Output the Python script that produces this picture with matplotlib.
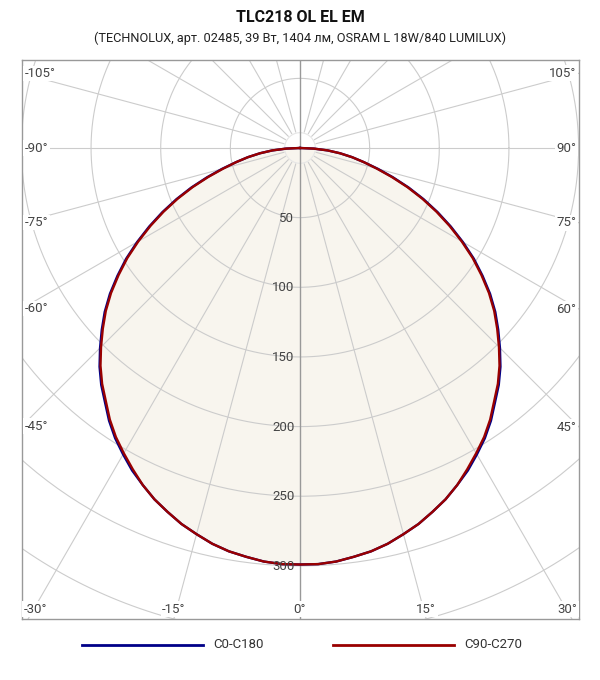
import numpy as np
import matplotlib.pyplot as plt

# luminous intensity, cd/klm, gamma 0..90 step 2.5 (symmetric halves)
gamma = [0, 2.5, 5, 7.5, 10, 12.5, 15, 17.5, 20, 22.5, 25, 27.5, 30, 32.5, 35, 37.5, 40, 42.5, 45,
         47.5, 50, 52.5, 55, 57.5, 60, 62.5, 65, 67.5, 70, 72.5, 75, 77.5, 80, 82.5, 85, 87.5, 90]
c0_c180 = [299, 299, 298, 296, 294, 291, 287, 283, 278, 273, 267, 261, 254, 247, 239, 230, 222, 213, 203,
           193, 183, 172, 160, 148, 135, 122, 109, 96, 83, 70, 58, 47, 38, 29, 20, 10, 0]
c90_c270 = [299, 299, 298, 296, 294, 291, 287, 283, 278, 273, 267, 260, 253, 246, 238, 229, 221, 212, 202,
            192, 182, 171, 159, 147, 134, 121, 108, 95, 82, 69, 57, 47, 38, 29, 20, 10, 0]

title = "TLC218 OL EL EM"
subtitle = "(TECHNOLUX, арт. 02485, 39 Вт, 1404 лм, OSRAM L 18W/840 LUMILUX)"
series_names = ["C0-C180", "C90-C270"]
series_colors = ["#000088", "#990000"]
ring_values = [50, 100, 150, 200, 250, 300]
angle_labels = [-105, -90, -75, -60, -45, -30, -15, 0, 15, 30, 45, 60, 75, 90, 105]

plt.rcParams['font.family'] = ['Roboto', 'DejaVu Sans']

W, H = 600, 680
fig = plt.figure(figsize=(W / 100, H / 100), dpi=100)

# frame in pixels
left, right, top, bottom = 22, 579, 60, 619
cx, cy = 300, 148
scale = 1.393  # px per cd/klm

ax = fig.add_axes([left / W, 1 - bottom / H, (right - left) / W, (bottom - top) / H])
xmin, xmax = (left - cx) / scale, (right - cx) / scale
ymin, ymax = -(bottom - cy) / scale, (cy - top) / scale
ax.set_xlim(xmin, xmax)
ax.set_ylim(ymin, ymax)
ax.set_xticks([])
ax.set_yticks([])
for s in ax.spines.values():
    s.set_color("#999999")
    s.set_linewidth(1.0)


def curve(values):
    g = np.radians(np.array(gamma, dtype=float))
    v = np.array(values, dtype=float)
    # right half (0..90) and mirrored left half
    gg = np.concatenate([-g[::-1], g[1:]])
    vv = np.concatenate([v[::-1], v[1:]])
    return vv * np.sin(gg), -vv * np.cos(gg)


# fill
fx, fy = curve(c90_c270)
ax.fill(fx, fy, color="#f8f5ee", zorder=0, lw=0)

# rings
t = np.linspace(0, 2 * np.pi, 400)
for r in range(50, 751, 50):
    ax.plot(r * np.cos(t), r * np.sin(t), color="#cccccc", lw=0.8, zorder=1)
ax.plot(11 * np.cos(t), 11 * np.sin(t), color="#e6e6e6", lw=0.8, zorder=1)

# spokes
for a in range(-180, 180, 15):
    if a in (0, -180):
        continue
    ar = np.radians(a)
    ax.plot([12 * np.sin(ar), 900 * np.sin(ar)], [-12 * np.cos(ar), -900 * np.cos(ar)],
            color="#cccccc", lw=0.8, zorder=1)
ax.plot([0, 0], [ymin, ymax], color="#999999", lw=1.0, zorder=1)

# curves
for vals, c, n in zip([c0_c180, c90_c270], series_colors, series_names):
    x, y = curve(vals)
    ax.plot(x, y, color=c, lw=1.7, zorder=3, label=n)

# radial labels
for r in ring_values:
    ax.text(-4, -r - 0.5, str(r), ha="right", va="center", fontsize=9.5, color="#444444", zorder=4)

# angle labels
box = dict(facecolor="white", edgecolor="none", pad=1.0)
for a in angle_labels:
    ar = np.radians(a)
    if abs(a) >= 45:
        side = xmin if a < 0 else xmax
        if abs(a) > 90:
            yy = abs(side * np.tan(np.radians(abs(a) - 90)))
            yy = min(yy, ymax - 8)
        elif abs(a) == 90:
            yy = 0
        else:
            yy = -abs(side) / np.tan(np.radians(abs(a)))
        xx = xmin + 2 if a < 0 else xmax - 2
        ha = "left" if a < 0 else "right"
        ax.text(xx, yy, f"{a}°", ha=ha, va="center", fontsize=9.5, color="#444444", bbox=box, zorder=5)
    else:
        xx = -ymin * np.tan(ar)
        ha = "center"
        if xx < xmin + 15:
            xx, ha = xmin + 1, "left"
        elif xx > xmax - 15:
            xx, ha = xmax - 1, "right"
        ax.text(xx, ymin + 7, f"{a}°", ha=ha, va="center", fontsize=9.5, color="#444444", bbox=box, zorder=5)

# titles
fig.text(0.5, 1 - 17 / H, title, ha="center", va="center", fontsize=11.5, fontweight="bold", color="#111111")
fig.text(0.5, 1 - 38 / H, subtitle, ha="center", va="center", fontsize=9.2, color="#222222")

# legend
ly = 1 - 645 / H
for x0, c, n in [(82, series_colors[0], series_names[0]), (333, series_colors[1], series_names[1])]:
    fig.add_artist(plt.Line2D([x0 / W, (x0 + 121) / W], [ly, ly], color=c, lw=2.0))
    fig.text((x0 + 131) / W, ly, n, ha="left", va="center", fontsize=9.5, color="#333333")

fig.savefig("out.png", dpi=100)
